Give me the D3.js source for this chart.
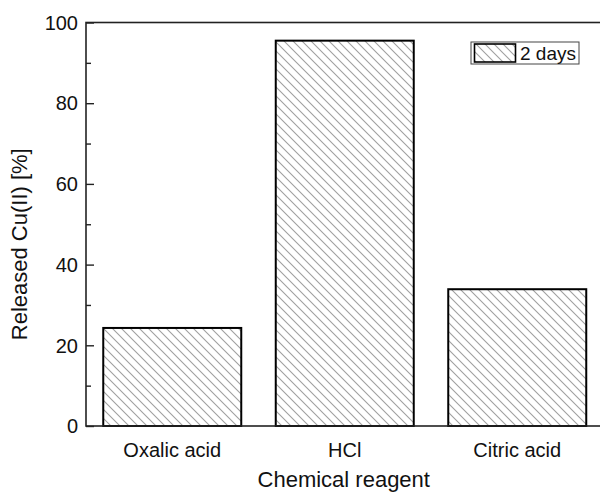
<!DOCTYPE html>
<html>
<head>
<meta charset="utf-8">
<script src="https://cdn.jsdelivr.net/npm/d3@7"></script>
<style>
  html, body { margin: 0; padding: 0; background: #fff; }
  svg { display: block; font-family: "Liberation Sans", Arial, sans-serif; }
</style>
</head>
<body>
<svg id="chart" width="600" height="493"></svg>
<script>
// Released Cu(II) after 2 days for each extraction reagent
const categories = ["Oxalic acid", "HCl", "Citric acid"];
const released = [24.3, 95.5, 33.9];
const seriesName = "2 days";
const yTicks = [0, 20, 40, 60, 80, 100];
const yMinorTicks = [10, 30, 50, 70, 90];

const svg = d3.select("#chart");
const plotLeft = 86, plotRight = 603.5, plotTop = 22.5, plotBottom = 426;

const x = d3.scaleBand().domain(categories).range([plotLeft, plotRight])
  .paddingInner(0.2).paddingOuter(0.1);
const y = d3.scaleLinear().domain([0, 100]).range([plotBottom, plotTop]);

// diagonal hatch used for the bars and legend swatch
const hp = 9;
const defs = svg.append("defs");
const pat = defs.append("pattern")
  .attr("id", "hatch").attr("patternUnits", "userSpaceOnUse")
  .attr("width", hp).attr("height", hp);
pat.append("path")
  .attr("d", `M-1,-1 L${hp + 1},${hp + 1} M-1,${hp - 1} L1,${hp + 1} M${hp - 1},-1 L${hp + 1},1`)
  .attr("stroke", "#a0a0a0").attr("stroke-width", 1.1).attr("fill", "none");

// bars
svg.append("g").selectAll("rect").data(categories).join("rect")
  .attr("x", d => x(d))
  .attr("y", (d, i) => y(released[i]))
  .attr("width", x.bandwidth())
  .attr("height", (d, i) => y(0) - y(released[i]))
  .attr("fill", "url(#hatch)")
  .attr("stroke", "#000").attr("stroke-width", 2);

// frame
svg.append("rect")
  .attr("x", plotLeft).attr("y", plotTop)
  .attr("width", plotRight - plotLeft).attr("height", plotBottom - plotTop)
  .attr("fill", "none").attr("stroke", "#222").attr("stroke-width", 1.6);

// y axis with inward ticks
const yAxis = d3.axisRight(y).tickValues(yTicks).tickSize(8).tickFormat(() => "");
const gy = svg.append("g").attr("transform", `translate(${plotLeft},0)`).call(yAxis);
gy.select(".domain").remove();
gy.selectAll("line").attr("stroke", "#222").attr("stroke-width", 1.4);
const yMinor = d3.axisRight(y).tickValues(yMinorTicks).tickSize(5).tickFormat(() => "");
const gym = svg.append("g").attr("transform", `translate(${plotLeft},0)`).call(yMinor);
gym.select(".domain").remove();
gym.selectAll("line").attr("stroke", "#222").attr("stroke-width", 1.4);

// y tick labels
svg.append("g").selectAll("text").data(yTicks).join("text")
  .attr("x", plotLeft - 8).attr("y", d => y(d))
  .attr("dy", "0.36em").attr("text-anchor", "end")
  .attr("font-size", 20).attr("fill", "#111")
  .text(d => d);

// x tick labels
const xAxis = d3.axisBottom(x).tickSize(0).tickPadding(0);
const gx = svg.append("g").attr("transform", `translate(0,${plotBottom})`).call(xAxis);
gx.select(".domain").remove();
gx.selectAll("text").attr("y", 31).attr("dy", 0)
  .attr("font-size", 20).attr("fill", "#111")
  .attr("font-family", "Liberation Sans, Arial, sans-serif");

// axis titles
svg.append("text")
  .attr("x", (plotLeft + plotRight) / 2 - 1).attr("y", 487)
  .attr("text-anchor", "middle").attr("font-size", 22).attr("fill", "#111")
  .text("Chemical reagent");
svg.append("text")
  .attr("transform", `translate(27,${(plotTop + plotBottom) / 2 + 20}) rotate(-90)`)
  .attr("text-anchor", "middle").attr("font-size", 22).attr("fill", "#111")
  .text("Released Cu(II) [%]");

// legend
const lg = svg.append("g");
lg.append("rect").attr("x", 471).attr("y", 42).attr("width", 108).attr("height", 22)
  .attr("fill", "#fff").attr("stroke", "#444").attr("stroke-width", 1);
lg.append("rect").attr("x", 474.5).attr("y", 44).attr("width", 41).attr("height", 18)
  .attr("fill", "url(#hatch)").attr("stroke", "#000").attr("stroke-width", 1.6);
lg.append("text").attr("x", 520).attr("y", 59.5)
  .attr("font-size", 19).attr("fill", "#111").text(seriesName);
</script>
</body>
</html>
